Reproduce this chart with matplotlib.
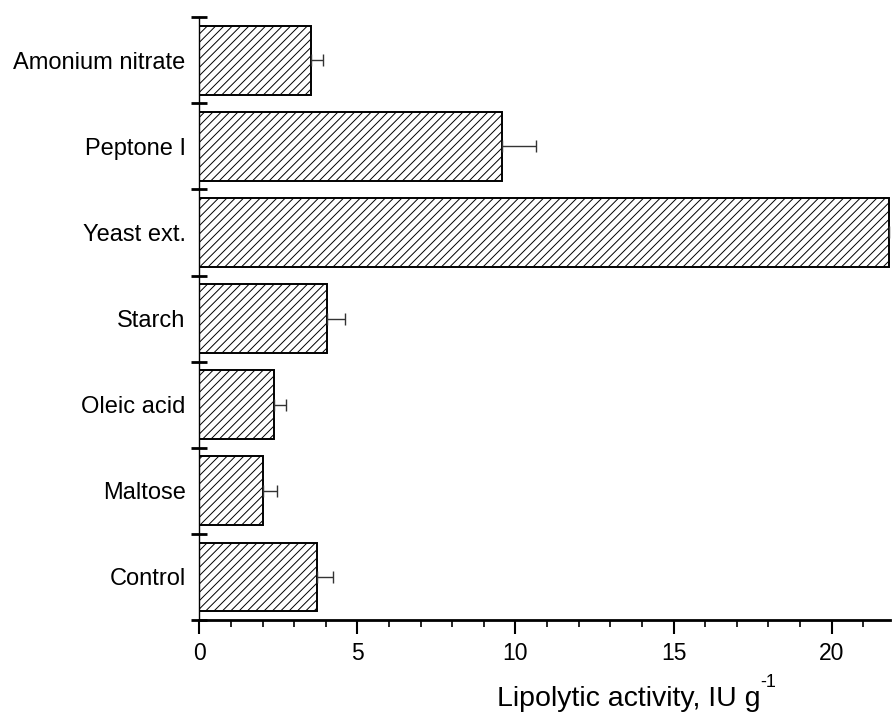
import numpy as np
import matplotlib.pyplot as plt
from matplotlib.ticker import MultipleLocator, FixedLocator

plt.rcParams['font.family'] = ['Liberation Sans', 'DejaVu Sans']
plt.rcParams['hatch.linewidth'] = 0.7

# bottom to top
labels = ['Control', 'Maltose', 'Oleic acid', 'Starch', 'Yeast ext.', 'Peptone I', 'Amonium nitrate']
values = [3.73, 2.01, 2.37, 4.03, 21.82, 9.56, 3.53]
errors = [0.50, 0.45, 0.37, 0.57, 1.50, 1.10, 0.38]

fig = plt.figure(figsize=(8.93, 7.16), dpi=100)
ax = fig.add_axes([0.2234, 0.134, 0.7732, 0.842])

y = np.arange(len(labels))
ax.barh(y, values, height=0.8, color='white', edgecolor='black', linewidth=1.4,
        hatch='////', zorder=2)
ax.errorbar(values, y, xerr=[np.zeros(len(errors)), errors], fmt='none',
            ecolor='#333333', elinewidth=1.0, capsize=4, capthick=1.0, zorder=3)

ax.set_xlim(0, 21.85)
ax.set_ylim(-0.5, len(labels) - 0.5)

ax.spines['top'].set_visible(False)
ax.spines['right'].set_visible(False)
ax.spines['bottom'].set_linewidth(2.0)
ax.spines['left'].set_linewidth(1.0)

ax.xaxis.set_major_locator(MultipleLocator(5))
ax.xaxis.set_minor_locator(MultipleLocator(1))
ax.tick_params(axis='x', which='major', direction='out', length=10, width=1.5,
               labelsize=16.5, pad=6)
ax.tick_params(axis='x', which='minor', direction='out', length=5, width=1.2)

ax.set_yticks(y)
ax.set_yticklabels(labels)
ax.yaxis.set_minor_locator(FixedLocator(np.arange(-0.5, len(labels), 1.0)))
ax.tick_params(axis='y', which='major', length=0, labelsize=17, pad=10)
ax.tick_params(axis='y', which='minor', direction='inout', length=11, width=2.0)

lbl = fig.text(0.5566, 0.014, 'Lipolytic activity, IU g', ha='left', va='baseline',
               fontsize=20.5)
ax.annotate('-1', xy=(1.0, 0.8), xycoords=lbl, xytext=(0, 0), textcoords='offset points',
            ha='left', va='bottom', fontsize=13)

fig.savefig('out.png', dpi=100)
